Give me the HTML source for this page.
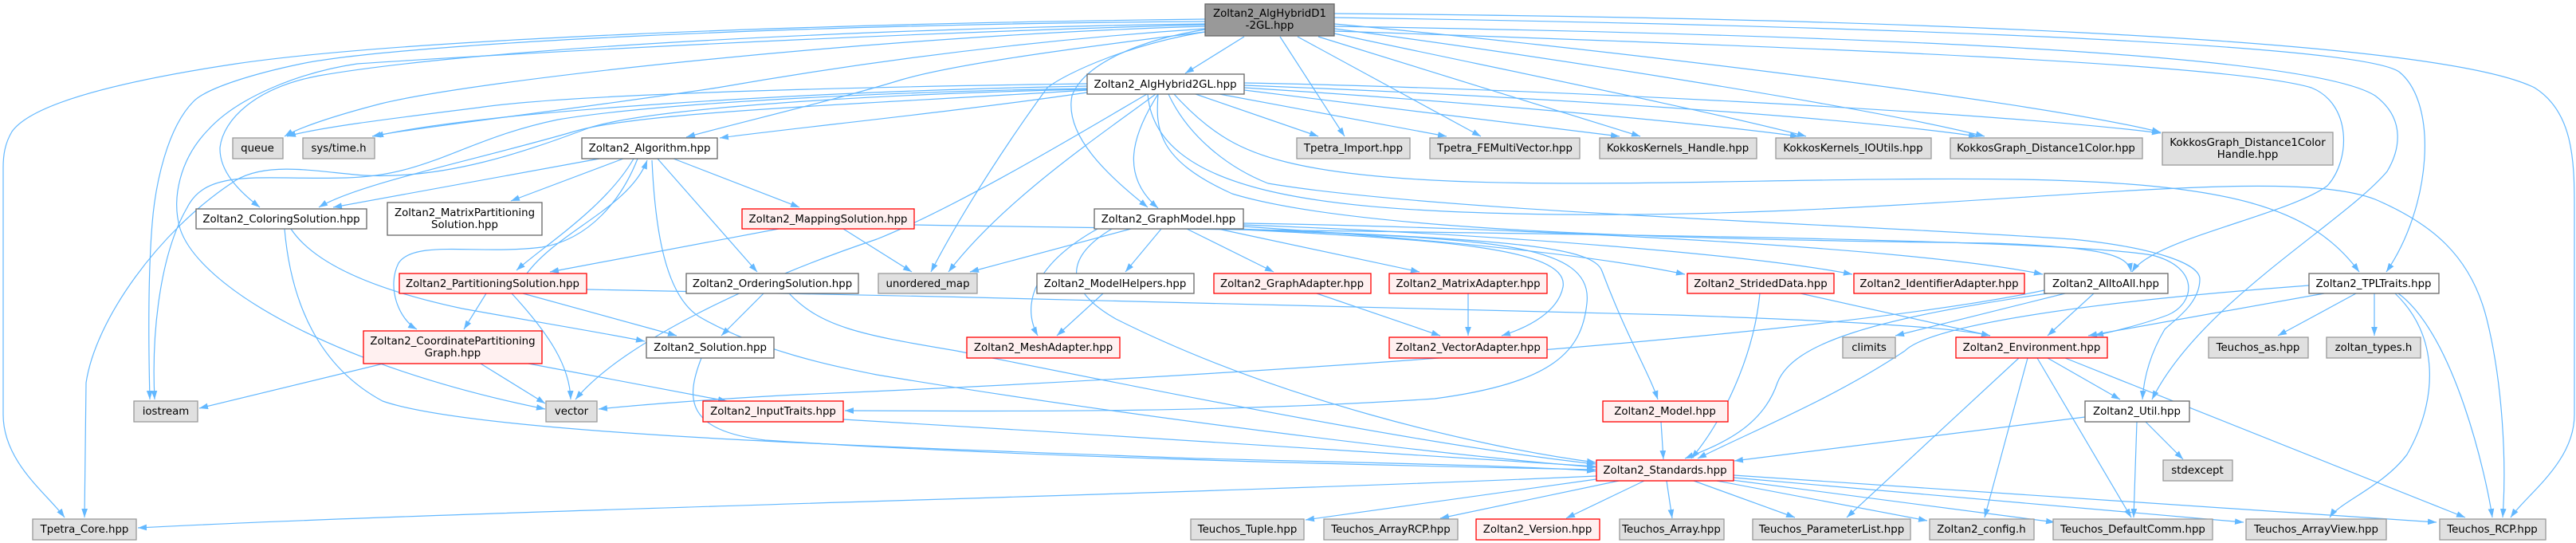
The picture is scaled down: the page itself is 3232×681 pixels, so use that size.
<!DOCTYPE html>
<html>
<head>
<meta charset="utf-8">
<style>
html,body{margin:0;padding:0;background:#fff;}
svg{display:block;}
text{font-family:"DejaVu Sans","Liberation Sans",sans-serif;font-size:13.33px;fill:#000;}
</style>
</head>
<body>
<svg width="3232" height="681" viewBox="0 0 3232 681" xmlns="http://www.w3.org/2000/svg">
<defs>
<marker id="a" markerUnits="userSpaceOnUse" markerWidth="11" markerHeight="8" refX="10" refY="3.5" orient="auto" viewBox="0 0 10 7">
<path d="M0,0 L10,3.5 L0,7 z" fill="#63b8ff"/>
</marker>
</defs>
<rect width="3232" height="681" fill="#fff"/>
<g fill="none" stroke="#63b8ff" stroke-width="1.2" marker-end="url(#a)">
<!-- Head edges -->
<path d="M1561,46 L1487,92"/>
<path d="M1606,46 L1687,171"/>
<path d="M1628,46 L1858,171"/>
<path d="M1654,46 L2058,171"/>
<path d="M1674,42 C1850,80 2150,140 2266,171"/>
<path d="M1674,36 C1900,65 2350,135 2490,171"/>
<path d="M1674,30 C1950,55 2550,125 2711,166"/>
<path d="M1674,22 C2200,30 2950,50 3010,90 C3060,130 3050,260 2994,341"/>
<path d="M1674,17 C2300,22 3050,45 3180,110 C3228,140 3230,200 3230,260 L3230,520 C3230,580 3170,620 3150,649"/>
<path d="M1674,39 C2300,60 2800,80 2900,110 C2950,130 2950,200 2920,233 C2870,270 2700,300 2675,341"/>
<path d="M1674,33 C2400,45 2900,70 2980,120 C3020,150 3010,190 2995,215 C2940,280 2760,380 2700,501"/>
<path d="M1512,40 C1350,60 1200,80 1131,100 C1050,125 930,153 861,172"/>
<path d="M1512,37 C1430,50 1360,80 1345,120 C1335,170 1390,220 1440,260"/>
<path d="M1512,40 C1420,55 1340,90 1314,110 C1270,170 1210,260 1168,341"/>
<path d="M1512,30 C1100,35 600,60 400,95 C320,110 280,150 276,185 C275,215 300,240 326,260"/>
<path d="M1512,27 C1000,30 500,55 378,80 C320,92 260,110 243,127 C210,160 195,230 191,280 C186,340 186,420 188,501"/>
<path d="M1512,33 C1100,45 600,100 478,130 C420,145 375,160 357,171"/>
<path d="M1512,36 C1300,50 1100,75 900,110 C700,140 520,160 467,171"/>
<path d="M1512,31 C1000,45 520,75 448,80 C380,90 300,120 261,163 C225,200 215,250 226,287 C250,360 420,460 684,513"/>
<path d="M1512,24 C1000,30 500,50 296,80 C150,102 40,130 15,165 C6,180 4,195 4,210 L4,520 C4,580 60,620 81,649"/>
<!-- H2 edges -->
<path d="M1500,118 L1654,171"/>
<path d="M1530,118 L1815,171"/>
<path d="M1561,113 L2032,171"/>
<path d="M1561,110 C1800,125 2100,150 2257,171"/>
<path d="M1561,107 C1900,120 2300,145 2481,171"/>
<path d="M1561,104 C1900,110 2500,140 2711,167"/>
<path d="M1473,118 C1520,170 1560,190 1613,203 C1800,250 2200,220 2535,225 C2800,230 2900,260 2960,341"/>
<path d="M1466,118 C1490,170 1540,210 1591,230 C1800,265 2300,280 2600,300 C2700,310 2760,330 2760,350 C2760,380 2730,400 2716,413 C2700,440 2690,470 2688,501"/>
<path d="M1453,118 C1450,160 1450,200 1546,243 C1700,290 2100,300 2500,305 C2640,310 2670,320 2674,341"/>
<path d="M1440,118 C1450,240 1650,262 1900,268 C2400,280 2850,200 2980,250 C3050,280 3100,320 3120,400 C3140,480 3145,580 3140,649"/>
<path d="M1364,116 C1200,140 1000,160 903,173"/>
<path d="M1453,118 C1420,170 1405,220 1453,261"/>
<path d="M1450,118 C1380,170 1260,250 1190,341"/>
<path d="M1439,118 C1350,170 1200,260 1100,300 C950,350 780,430 722,501"/>
<path d="M1364,113 C1100,130 800,140 720,165 C600,200 450,230 400,260"/>
<path d="M1364,105 C1000,110 700,120 600,135 C480,150 400,160 360,171"/>
<path d="M1364,108 C1000,115 600,140 470,171"/>
<path d="M1364,111 C1100,115 820,130 700,150 C580,175 540,220 435,223 C330,226 260,210 235,260 C200,320 190,420 194,501"/>
<path d="M1364,112 C1100,118 820,135 740,160 C660,190 560,225 457,220 C400,216 330,200 290,230 C200,290 120,400 108,480 L106,649"/>
<!-- Algorithm edges -->
<path d="M752,199 L418,260"/>
<path d="M782,199 L641,252"/>
<path d="M795,199 C760,260 680,310 648,339"/>
<path d="M800,199 C780,250 740,300 680,310 C600,320 520,300 500,330 C485,360 500,400 523,413"/>
<path d="M845,199 L1003,260"/>
<path d="M825,199 L950,341"/>
<path d="M818,201 C822,290 835,370 877,397 C950,440 1050,460 1100,470 C1400,520 1800,570 2002,586"/>
<path d="M661,343 C700,290 790,260 812,201"/>
<!-- ColoringSolution -->
<path d="M365,287 C400,340 500,370 580,387 C680,405 760,418 809,428"/>
<path d="M357,287 C365,380 400,460 480,503 C600,545 1100,560 1500,575 C1800,582 1950,586 2002,591"/>
<!-- MappingSolution -->
<path d="M977,287 L690,341"/>
<path d="M1058,287 L1144,341"/>
<path d="M1147,282 C1700,292 2550,295 2700,320 C2760,335 2755,380 2720,395 C2680,410 2640,418 2628,421"/>
<!-- PartitioningSolution -->
<path d="M610,368 L582,413"/>
<path d="M642,368 C690,420 715,460 716,501"/>
<path d="M656,368 L849,421"/>
<path d="M736,363 C1200,372 1800,385 2100,395 C2300,402 2450,410 2497,421"/>
<!-- OrderingSolution -->
<path d="M958,368 L905,421"/>
<path d="M990,368 C1030,410 1080,420 1200,440 C1500,500 1800,560 2002,582"/>
<!-- CPG -->
<path d="M481,456 L250,512"/>
<path d="M603,456 L684,506"/>
<path d="M663,456 L912,503"/>
<!-- Solution -->
<path d="M880,449 C860,500 860,540 960,552 C1300,575 1800,585 2002,589"/>
<!-- InputTraits -->
<path d="M1058,526 C1400,545 1800,575 2002,585"/>
<!-- GraphModel -->
<path d="M1419,287 L1217,341"/>
<path d="M1457,287 L1412,341"/>
<path d="M1489,287 L1598,341"/>
<path d="M1528,287 L1781,341"/>
<path d="M1377,287 C1300,330 1280,380 1302,421"/>
<path d="M1560,284 C1800,300 2000,320 2114,344"/>
<path d="M1560,282 C1900,295 2200,320 2324,344"/>
<path d="M1560,280 C1900,285 2400,310 2563,344"/>
<path d="M1540,287 C1800,300 1970,310 1961,360 C1955,390 1920,410 1884,421"/>
<path d="M1545,287 C1850,300 2000,300 1991,380 C1985,440 1950,480 1800,500 C1500,520 1200,515 1060,515"/>
<path d="M1550,287 C1900,300 2000,310 2010,340 C2040,420 2070,470 2080,501"/>
<path d="M1395,287 C1340,320 1330,360 1400,400 C1600,500 1850,560 2002,580"/>
<!-- Right side -->
<path d="M2208,368 C2200,450 2160,530 2122,575"/>
<path d="M2259,368 L2497,421"/>
<path d="M2565,364 C2300,420 1600,470 1000,495 C900,500 800,508 751,513"/>
<path d="M2591,368 L2378,421"/>
<path d="M2627,368 L2569,421"/>
<path d="M2569,368 C2350,400 2250,430 2230,480 C2210,540 2150,560 2114,575"/>
<path d="M2916,368 L2620,421"/>
<path d="M2897,358 C2600,380 2420,410 2390,440 C2300,500 2200,540 2130,575"/>
<path d="M2956,368 L2858,421"/>
<path d="M2979,368 L2979,421"/>
<path d="M3005,368 C3060,420 3060,500 3020,570 C2990,610 2935,630 2923,649"/>
<path d="M3009,368 C3080,420 3120,600 3127,649"/>
<path d="M2533,449 L2317,649"/>
<path d="M2544,449 L2490,649"/>
<path d="M2556,449 L2674,649"/>
<path d="M2569,449 L2660,501"/>
<path d="M2591,449 L3093,649"/>
<path d="M2616,523 L2176,578"/>
<path d="M2681,529 L2677,649"/>
<path d="M2692,529 L2739,576"/>
<path d="M2084,529 L2087,576"/>
<path d="M1842,368 L1842,421"/>
<path d="M1652,368 L1807,421"/>
<path d="M1384,368 L1326,421"/>
<!-- Standards outgoing -->
<path d="M2003,601 L1638,652"/>
<path d="M2031,603 L1807,650"/>
<path d="M2063,603 L1965,650"/>
<path d="M2091,603 L2098,650"/>
<path d="M2125,603 L2252,649"/>
<path d="M2154,603 L2418,653"/>
<path d="M2165,601 L2578,655"/>
<path d="M2175,599 L2815,655"/>
<path d="M2175,596 L3057,655"/>
<path d="M2003,597 C1500,620 600,640 173,662"/>
</g>
<!-- Nodes -->
<g stroke-width="1.3">
<rect x="1512" y="5" width="162" height="40" fill="#999999" stroke="#666666"/>
<rect x="1364" y="93" width="197" height="25" fill="#fff" stroke="#666666"/>
<rect x="292" y="173" width="63" height="26" fill="#e0e0e0" stroke="#999999"/>
<rect x="380" y="173" width="90" height="26" fill="#e0e0e0" stroke="#999999"/>
<rect x="730" y="173" width="170" height="26" fill="#fff" stroke="#666666"/>
<rect x="1627" y="173" width="142" height="26" fill="#e0e0e0" stroke="#999999"/>
<rect x="1794" y="173" width="188" height="26" fill="#e0e0e0" stroke="#999999"/>
<rect x="2007" y="173" width="197" height="26" fill="#e0e0e0" stroke="#999999"/>
<rect x="2228" y="173" width="195" height="26" fill="#e0e0e0" stroke="#999999"/>
<rect x="2447" y="173" width="241" height="26" fill="#e0e0e0" stroke="#999999"/>
<rect x="2713" y="166" width="214" height="41" fill="#e0e0e0" stroke="#999999"/>
<rect x="246" y="262" width="214" height="25" fill="#fff" stroke="#666666"/>
<rect x="486" y="254" width="194" height="41" fill="#fff" stroke="#666666"/>
<rect x="931" y="262" width="216" height="25" fill="#fff0f0" stroke="#ff0000"/>
<rect x="1373" y="262" width="187" height="25" fill="#fff" stroke="#666666"/>
<rect x="501" y="343" width="235" height="25" fill="#fff0f0" stroke="#ff0000"/>
<rect x="861" y="343" width="216" height="25" fill="#fff" stroke="#666666"/>
<rect x="1102" y="343" width="124" height="25" fill="#e0e0e0" stroke="#999999"/>
<rect x="1301" y="343" width="197" height="25" fill="#fff" stroke="#666666"/>
<rect x="1523" y="343" width="197" height="25" fill="#fff0f0" stroke="#ff0000"/>
<rect x="1743" y="343" width="198" height="25" fill="#fff0f0" stroke="#ff0000"/>
<rect x="2117" y="343" width="184" height="25" fill="#fff0f0" stroke="#ff0000"/>
<rect x="2326" y="343" width="214" height="25" fill="#fff0f0" stroke="#ff0000"/>
<rect x="2565" y="343" width="155" height="25" fill="#fff" stroke="#666666"/>
<rect x="2897" y="343" width="163" height="25" fill="#fff" stroke="#666666"/>
<rect x="456" y="415" width="224" height="41" fill="#fff0f0" stroke="#ff0000"/>
<rect x="811" y="423" width="160" height="26" fill="#fff" stroke="#666666"/>
<rect x="1213" y="423" width="192" height="26" fill="#fff0f0" stroke="#ff0000"/>
<rect x="1743" y="423" width="198" height="26" fill="#fff0f0" stroke="#ff0000"/>
<rect x="2312" y="423" width="66" height="26" fill="#e0e0e0" stroke="#999999"/>
<rect x="2454" y="423" width="190" height="26" fill="#fff0f0" stroke="#ff0000"/>
<rect x="2771" y="423" width="125" height="26" fill="#e0e0e0" stroke="#999999"/>
<rect x="2919" y="423" width="118" height="26" fill="#e0e0e0" stroke="#999999"/>
<rect x="168" y="503" width="80" height="26" fill="#e0e0e0" stroke="#999999"/>
<rect x="685" y="503" width="64" height="26" fill="#e0e0e0" stroke="#999999"/>
<rect x="882" y="503" width="176" height="26" fill="#fff0f0" stroke="#ff0000"/>
<rect x="2011" y="503" width="157" height="26" fill="#fff0f0" stroke="#ff0000"/>
<rect x="2616" y="503" width="131" height="26" fill="#fff" stroke="#666666"/>
<rect x="2003" y="577" width="172" height="26" fill="#fff0f0" stroke="#ff0000"/>
<rect x="2714" y="577" width="87" height="26" fill="#e0e0e0" stroke="#999999"/>
<rect x="41" y="651" width="130" height="26" fill="#e0e0e0" stroke="#999999"/>
<rect x="1494" y="651" width="142" height="26" fill="#e0e0e0" stroke="#999999"/>
<rect x="1661" y="651" width="168" height="26" fill="#e0e0e0" stroke="#999999"/>
<rect x="1852" y="651" width="155" height="26" fill="#fff0f0" stroke="#ff0000"/>
<rect x="2032" y="651" width="131" height="26" fill="#e0e0e0" stroke="#999999"/>
<rect x="2199" y="651" width="198" height="26" fill="#e0e0e0" stroke="#999999"/>
<rect x="2421" y="651" width="131" height="26" fill="#e0e0e0" stroke="#999999"/>
<rect x="2576" y="651" width="200" height="26" fill="#e0e0e0" stroke="#999999"/>
<rect x="2818" y="651" width="176" height="26" fill="#e0e0e0" stroke="#999999"/>
<rect x="3061" y="651" width="133" height="26" fill="#e0e0e0" stroke="#999999"/>
</g>
<g text-anchor="middle">
<text x="1593" y="21">Zoltan2_AlgHybridD1</text>
<text x="1593" y="36">-2GL.hpp</text>
<text x="1462" y="110">Zoltan2_AlgHybrid2GL.hpp</text>
<text x="323" y="190">queue</text>
<text x="425" y="190">sys/time.h</text>
<text x="815" y="190">Zoltan2_Algorithm.hpp</text>
<text x="1698" y="190">Tpetra_Import.hpp</text>
<text x="1888" y="190">Tpetra_FEMultiVector.hpp</text>
<text x="2105" y="190">KokkosKernels_Handle.hpp</text>
<text x="2325" y="190">KokkosKernels_IOUtils.hpp</text>
<text x="2567" y="190">KokkosGraph_Distance1Color.hpp</text>
<text x="2820" y="183">KokkosGraph_Distance1Color</text>
<text x="2820" y="198">Handle.hpp</text>
<text x="353" y="279">Zoltan2_ColoringSolution.hpp</text>
<text x="583" y="271">Zoltan2_MatrixPartitioning</text>
<text x="583" y="286">Solution.hpp</text>
<text x="1039" y="279">Zoltan2_MappingSolution.hpp</text>
<text x="1466" y="279">Zoltan2_GraphModel.hpp</text>
<text x="618" y="360">Zoltan2_PartitioningSolution.hpp</text>
<text x="969" y="360">Zoltan2_OrderingSolution.hpp</text>
<text x="1164" y="360">unordered_map</text>
<text x="1399" y="360">Zoltan2_ModelHelpers.hpp</text>
<text x="1621" y="360">Zoltan2_GraphAdapter.hpp</text>
<text x="1842" y="360">Zoltan2_MatrixAdapter.hpp</text>
<text x="2209" y="360">Zoltan2_StridedData.hpp</text>
<text x="2433" y="360">Zoltan2_IdentifierAdapter.hpp</text>
<text x="2642" y="360">Zoltan2_AlltoAll.hpp</text>
<text x="2978" y="360">Zoltan2_TPLTraits.hpp</text>
<text x="568" y="432">Zoltan2_CoordinatePartitioning</text>
<text x="568" y="447">Graph.hpp</text>
<text x="891" y="440">Zoltan2_Solution.hpp</text>
<text x="1309" y="440">Zoltan2_MeshAdapter.hpp</text>
<text x="1842" y="440">Zoltan2_VectorAdapter.hpp</text>
<text x="2345" y="440">climits</text>
<text x="2549" y="440">Zoltan2_Environment.hpp</text>
<text x="2833" y="440">Teuchos_as.hpp</text>
<text x="2978" y="440">zoltan_types.h</text>
<text x="208" y="520">iostream</text>
<text x="717" y="520">vector</text>
<text x="970" y="520">Zoltan2_InputTraits.hpp</text>
<text x="2089" y="520">Zoltan2_Model.hpp</text>
<text x="2681" y="520">Zoltan2_Util.hpp</text>
<text x="2089" y="594">Zoltan2_Standards.hpp</text>
<text x="2757" y="594">stdexcept</text>
<text x="106" y="668">Tpetra_Core.hpp</text>
<text x="1565" y="668">Teuchos_Tuple.hpp</text>
<text x="1745" y="668">Teuchos_ArrayRCP.hpp</text>
<text x="1929" y="668">Zoltan2_Version.hpp</text>
<text x="2097" y="668">Teuchos_Array.hpp</text>
<text x="2298" y="668">Teuchos_ParameterList.hpp</text>
<text x="2486" y="668">Zoltan2_config.h</text>
<text x="2676" y="668">Teuchos_DefaultComm.hpp</text>
<text x="2906" y="668">Teuchos_ArrayView.hpp</text>
<text x="3127" y="668">Teuchos_RCP.hpp</text>
</g>
</svg>
</body>
</html>
